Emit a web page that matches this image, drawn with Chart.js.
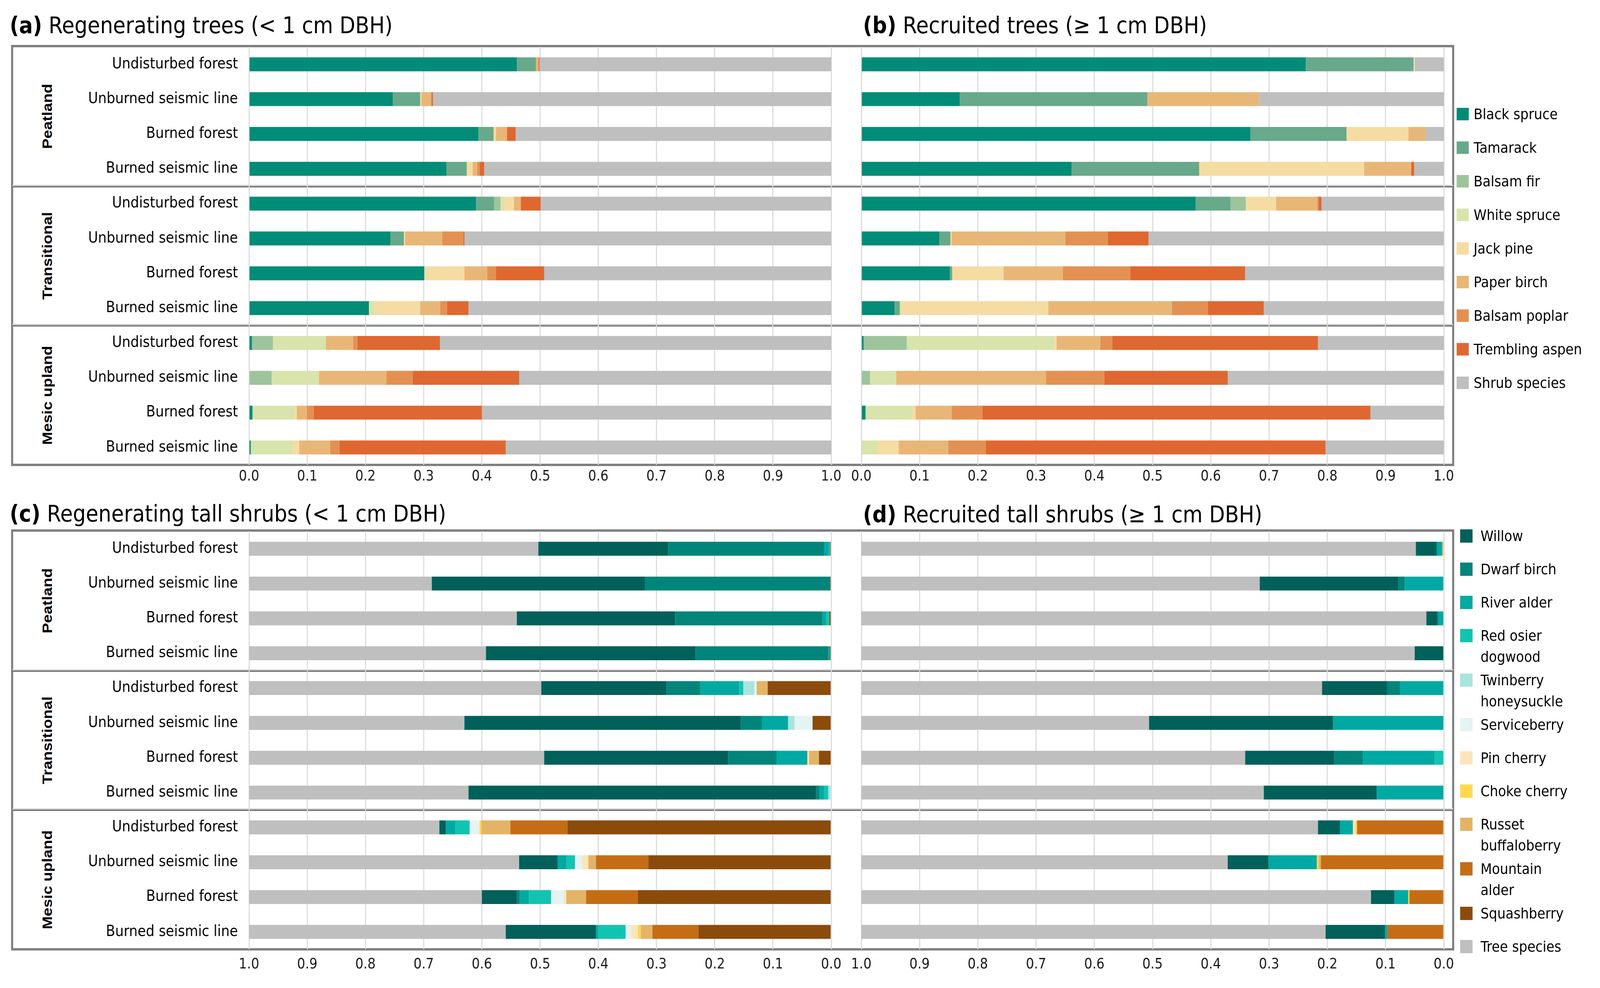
<!DOCTYPE html>
<html>
<head>
<meta charset="utf-8">
<script src="https://cdn.jsdelivr.net/npm/chart.js@4.4.1/dist/chart.umd.min.js"></script>
<style>
html, body { margin: 0; padding: 0; background: #fff; overflow: hidden; }
#page { position: absolute; left: 0; top: 0; width: 4620px; height: 2529px; background: #fff; transform-origin: 0 0; font-family: "DejaVu Sans", sans-serif; color: #000; }
canvas { position: absolute; }
.frame { position: absolute; border: 6px solid #7f7f7f; box-sizing: border-box; }
.sep { position: absolute; height: 4px; background: #7f7f7f; border-top: 3px solid #d6d6d6; }
.title { position: absolute; font-size: 59px; line-height: 60px; white-space: nowrap; }
.title b { font-weight: bold; }
.group { position: absolute; font: bold 40px "Liberation Sans", Arial, sans-serif; white-space: nowrap; transform: translate(-50%, -50%) rotate(-90deg); }
.legend { position: absolute; font-size: 38px; line-height: 54px; white-space: nowrap; }
.legend .item { position: relative; }
.legend .sw { position: absolute; left: 0; }
</style>
</head>
<body>
<div id="page">

<div class="title" style="left:28px; top:35px;"><b>(a)</b> Regenerating trees (&lt; 1 cm DBH)</div>
<div class="title" style="left:2492px; top:35px;"><b>(b)</b> Recruited trees (≥ 1 cm DBH)</div>
<div class="title" style="left:28px; top:1285px;"><b>(c)</b> Regenerating tall shrubs (&lt; 1 cm DBH)</div>
<div class="title" style="left:2492px; top:1287px;"><b>(d)</b> Recruited tall shrubs (≥ 1 cm DBH)</div>

<div class="frame" style="left:32px; top:115px; width:4167px; height:1078px;"></div>
<div class="frame" style="left:32px; top:1355px; width:4167px; height:1078px;"></div>
<div class="sep" style="left:36px; top:473px; width:4160px;"></div>
<div class="sep" style="left:36px; top:829px; width:4160px;"></div>
<div class="sep" style="left:36px; top:1713px; width:4160px;"></div>
<div class="sep" style="left:36px; top:2069px; width:4160px;"></div>

<div id="groupsTop"></div>
<div id="groupsBottom"></div>

<canvas id="chartA" width="2400" height="1140" style="left:40px; top:120px;"></canvas>
<canvas id="chartB" width="1780" height="1140" style="left:2440px; top:120px;"></canvas>
<canvas id="chartC" width="2400" height="1140" style="left:40px; top:1360px;"></canvas>
<canvas id="chartD" width="1780" height="1140" style="left:2440px; top:1360px;"></canvas>

<div class="legend" id="legendTrees" style="left:4206px; top:265px;"></div>
<div class="legend" id="legendShrubs" style="left:4216px; top:1345px;"></div>

</div>
<script>
// rows, top to bottom
const rowLabels = [
    'Undisturbed forest', 'Unburned seismic line', 'Burned forest', 'Burned seismic line',
    'Undisturbed forest', 'Unburned seismic line', 'Burned forest', 'Burned seismic line',
    'Undisturbed forest', 'Unburned seismic line', 'Burned forest', 'Burned seismic line'
];
const groupNames = ['Peatland', 'Transitional', 'Mesic upland'];
const tickStep = 0.1;

const treeSpecies = ['Black spruce', 'Tamarack', 'Balsam fir', 'White spruce', 'Jack pine',
    'Paper birch', 'Balsam poplar', 'Trembling aspen', 'Shrub species'];
const treeColors = ['#018c77', '#67a98a', '#9ec49b', '#d8e4ac', '#f5dca3',
    '#e8b778', '#e39153', '#df6831', '#bfbfbf'];

const shrubSpecies = ['Willow', 'Dwarf birch', 'River alder', 'Red osier\ndogwood', 'Twinberry\nhoneysuckle',
    'Serviceberry', 'Pin cherry', 'Choke cherry', 'Russet\nbuffaloberry', 'Mountain\nalder',
    'Squashberry', 'Tree species'];
const shrubColors = ['#01605a', '#01857a', '#01a9a3', '#11c4b1', '#a8e5de',
    '#e3f4f2', '#fbe5bd', '#ffd84e', '#e3b466', '#c56d15', '#8b4b0b', '#bfbfbf'];

// (a) regenerating trees, one row per species (treeSpecies order)
const regenTrees = [
    [0.460, 0.247, 0.394, 0.339, 0.390, 0.243, 0.301, 0.206, 0.005, 0.000, 0.006, 0.003],
    [0.033, 0.047, 0.026, 0.035, 0.031, 0.023, 0.000, 0.000, 0.000, 0.000, 0.000, 0.000],
    [0.000, 0.000, 0.000, 0.000, 0.011, 0.000, 0.000, 0.000, 0.036, 0.039, 0.000, 0.000],
    [0.000, 0.000, 0.000, 0.000, 0.006, 0.000, 0.004, 0.010, 0.091, 0.081, 0.073, 0.072],
    [0.000, 0.002, 0.004, 0.010, 0.017, 0.002, 0.065, 0.078, 0.000, 0.000, 0.003, 0.011],
    [0.004, 0.016, 0.019, 0.008, 0.012, 0.064, 0.039, 0.034, 0.047, 0.116, 0.017, 0.053],
    [0.000, 0.002, 0.000, 0.004, 0.000, 0.036, 0.015, 0.012, 0.007, 0.045, 0.012, 0.016],
    [0.002, 0.002, 0.015, 0.008, 0.034, 0.002, 0.083, 0.037, 0.142, 0.183, 0.289, 0.286],
    [0.501, 0.684, 0.542, 0.596, 0.499, 0.630, 0.493, 0.623, 0.672, 0.536, 0.600, 0.559]
];

// (b) recruited trees
const recruitTrees = [
    [0.763, 0.169, 0.668, 0.361, 0.574, 0.134, 0.152, 0.057, 0.004, 0.000, 0.007, 0.000],
    [0.185, 0.322, 0.165, 0.219, 0.060, 0.019, 0.004, 0.009, 0.000, 0.000, 0.000, 0.000],
    [0.000, 0.000, 0.000, 0.000, 0.026, 0.000, 0.000, 0.000, 0.074, 0.015, 0.001, 0.000],
    [0.000, 0.000, 0.000, 0.000, 0.002, 0.000, 0.000, 0.003, 0.253, 0.045, 0.080, 0.028],
    [0.002, 0.000, 0.106, 0.283, 0.050, 0.002, 0.088, 0.252, 0.004, 0.000, 0.005, 0.036],
    [0.000, 0.192, 0.030, 0.081, 0.071, 0.195, 0.102, 0.212, 0.075, 0.257, 0.062, 0.085],
    [0.000, 0.000, 0.000, 0.000, 0.002, 0.073, 0.116, 0.062, 0.021, 0.100, 0.053, 0.065],
    [0.000, 0.000, 0.000, 0.005, 0.005, 0.070, 0.197, 0.096, 0.353, 0.212, 0.666, 0.583],
    [0.050, 0.317, 0.031, 0.051, 0.210, 0.507, 0.341, 0.309, 0.216, 0.371, 0.126, 0.203]
];

// (c) regenerating tall shrubs, shrubSpecies order
const regenShrubs = [
    [0.223, 0.366, 0.272, 0.360, 0.215, 0.475, 0.316, 0.597, 0.011, 0.066, 0.060, 0.155],
    [0.268, 0.318, 0.253, 0.228, 0.058, 0.036, 0.083, 0.006, 0.000, 0.000, 0.005, 0.000],
    [0.008, 0.000, 0.007, 0.003, 0.067, 0.045, 0.053, 0.008, 0.016, 0.015, 0.016, 0.004],
    [0.002, 0.000, 0.005, 0.000, 0.007, 0.000, 0.000, 0.007, 0.025, 0.015, 0.038, 0.047],
    [0.000, 0.000, 0.000, 0.000, 0.019, 0.011, 0.000, 0.005, 0.000, 0.000, 0.000, 0.000],
    [0.000, 0.000, 0.000, 0.000, 0.004, 0.031, 0.000, 0.000, 0.017, 0.012, 0.022, 0.009],
    [0.000, 0.000, 0.000, 0.000, 0.000, 0.000, 0.003, 0.000, 0.000, 0.011, 0.004, 0.012],
    [0.000, 0.000, 0.000, 0.000, 0.000, 0.000, 0.000, 0.000, 0.003, 0.000, 0.000, 0.005],
    [0.000, 0.000, 0.000, 0.000, 0.019, 0.000, 0.017, 0.000, 0.050, 0.013, 0.034, 0.020],
    [0.000, 0.000, 0.000, 0.000, 0.000, 0.000, 0.000, 0.000, 0.098, 0.090, 0.089, 0.079],
    [0.002, 0.002, 0.003, 0.002, 0.109, 0.032, 0.021, 0.000, 0.453, 0.314, 0.332, 0.228],
    [0.497, 0.314, 0.460, 0.407, 0.502, 0.370, 0.507, 0.377, 0.327, 0.464, 0.400, 0.441]
];

// (d) recruited tall shrubs
const recruitShrubs = [
    [0.036, 0.238, 0.019, 0.050, 0.112, 0.316, 0.153, 0.194, 0.038, 0.070, 0.040, 0.102],
    [0.000, 0.011, 0.002, 0.000, 0.022, 0.000, 0.049, 0.000, 0.000, 0.000, 0.000, 0.000],
    [0.009, 0.067, 0.009, 0.000, 0.075, 0.190, 0.123, 0.115, 0.022, 0.083, 0.024, 0.004],
    [0.000, 0.000, 0.000, 0.000, 0.000, 0.000, 0.016, 0.000, 0.000, 0.000, 0.000, 0.000],
    [0.000, 0.000, 0.000, 0.000, 0.000, 0.000, 0.000, 0.000, 0.000, 0.000, 0.000, 0.000],
    [0.000, 0.000, 0.000, 0.000, 0.000, 0.000, 0.000, 0.000, 0.000, 0.000, 0.000, 0.000],
    [0.000, 0.000, 0.000, 0.000, 0.000, 0.000, 0.000, 0.000, 0.004, 0.000, 0.000, 0.000],
    [0.000, 0.000, 0.000, 0.000, 0.000, 0.000, 0.000, 0.000, 0.003, 0.003, 0.002, 0.000],
    [0.003, 0.000, 0.000, 0.000, 0.000, 0.000, 0.000, 0.000, 0.000, 0.004, 0.000, 0.000],
    [0.000, 0.000, 0.000, 0.000, 0.000, 0.000, 0.000, 0.000, 0.149, 0.210, 0.059, 0.097],
    [0.000, 0.000, 0.000, 0.000, 0.000, 0.000, 0.000, 0.000, 0.000, 0.001, 0.000, 0.000],
    [0.952, 0.684, 0.970, 0.950, 0.791, 0.494, 0.659, 0.691, 0.784, 0.629, 0.875, 0.797]
];

const labelFont = '"DejaVu Sans", sans-serif';

// the window can be narrower than 4620 (browser width cap), so stretch the
// 4620 x 2529 layout to fill it exactly
const scaleX = window.innerWidth / 4620;
const scaleY = window.innerHeight / 2529;
document.getElementById('page').style.transform = 'scale(' + scaleX + ',' + scaleY + ')';
const pixelRatio = (window.devicePixelRatio || 1) * Math.max(scaleX, scaleY);

function make_datasets(values, names, colors, reversed) {
    let sets = values.map((row, i) => ({
        label: names[i].replace('\n', ' '),
        data: row,
        backgroundColor: colors[i],
        borderWidth: 0,
        categoryPercentage: 1.0,
        barPercentage: 0.4
    }));
    // shrub panels stack from the right: squashberry first ... willow, then tree species
    if (reversed) {
        let last = sets.pop();
        sets.reverse();
        sets.push(last);
    }
    return sets;
}

function make_chart(id, datasets, showLabels, reversed, tickPad) {
    return new Chart(document.getElementById(id), {
        type: 'bar',
        data: { labels: rowLabels, datasets: datasets },
        options: {
            indexAxis: 'y',
            responsive: false,
            animation: false,
            devicePixelRatio: pixelRatio,
            layout: { padding: showLabels ? { left: 0, right: 40, top: 0, bottom: 0 } : { left: 47, right: 51, top: 0, bottom: 0 } },
            plugins: { legend: { display: false }, tooltip: { enabled: false } },
            scales: {
                x: {
                    stacked: true,
                    min: 0,
                    max: 1,
                    reverse: reversed,
                    border: { display: false },
                    grid: { color: '#d9d9d9', lineWidth: 3, drawTicks: false },
                    ticks: {
                        stepSize: tickStep,
                        padding: tickPad,
                        color: '#1a1a1a',
                        font: { family: labelFont, size: 37 },
                        maxRotation: 0,
                        callback: v => (+v).toFixed(1)
                    },
                    afterFit: s => { s.height = 70; s.paddingLeft = 0; s.paddingRight = 0; }
                },
                y: {
                    stacked: true,
                    display: showLabels,
                    border: { display: false },
                    grid: { display: false, drawTicks: false },
                    ticks: {
                        padding: 32,
                        color: '#000',
                        font: { family: labelFont, size: 39 }
                    },
                    afterFit: s => {
                        s.width = showLabels ? 679 : 0;
                        s.paddingTop = 0;
                        s.paddingBottom = 0;
                    }
                }
            }
        }
    });
}

function draw_groups(id, top) {
    let box = document.getElementById(id);
    let rowH = 1070 / rowLabels.length;
    groupNames.forEach((g, i) => {
        let d = document.createElement('div');
        d.className = 'group';
        d.textContent = g;
        d.style.left = '137px';
        d.style.top = (top + rowH * (i * 4 + 2)) + 'px';
        box.appendChild(d);
    });
}

function draw_legend(id, names, colors, gap, swLeft, swW, swH) {
    let box = document.getElementById(id);
    names.forEach((n, i) => {
        let lines = n.split('\n');
        let item = document.createElement('div');
        item.className = 'item';
        item.style.paddingLeft = swLeft + 'px';
        item.style.marginBottom = (lines.length > 1 ? gap - 25 : gap) + 'px';
        let sw = document.createElement('div');
        sw.className = 'sw';
        sw.style.background = colors[i];
        sw.style.width = swW + 'px';
        sw.style.height = swH + 'px';
        sw.style.top = (27 - swH / 2) + 'px';
        item.appendChild(sw);
        lines.forEach((t, k) => {
            if (k > 0) item.appendChild(document.createElement('br'));
            item.appendChild(document.createTextNode(t));
        });
        box.appendChild(item);
    });
}

draw_groups('groupsTop', 120);
draw_groups('groupsBottom', 1360);

make_chart('chartA', make_datasets(regenTrees, treeSpecies, treeColors, false), true, false, 8);
make_chart('chartB', make_datasets(recruitTrees, treeSpecies, treeColors, false), false, false, 8);
make_chart('chartC', make_datasets(regenShrubs, shrubSpecies, shrubColors, true), true, true, 17);
make_chart('chartD', make_datasets(recruitShrubs, shrubSpecies, shrubColors, true), false, true, 17);

draw_legend('legendTrees', treeSpecies, treeColors, 32, 49, 35, 32);
draw_legend('legendShrubs', shrubSpecies, shrubColors, 31, 59, 36, 34);
</script>
</body>
</html>
